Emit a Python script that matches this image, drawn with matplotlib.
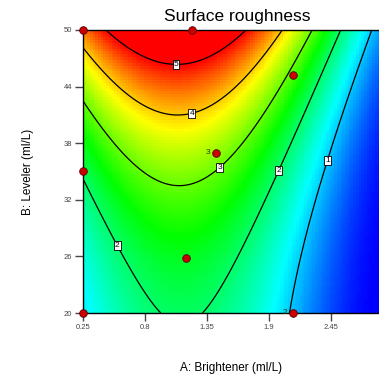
import numpy as np
import matplotlib
matplotlib.use("Agg")
import matplotlib.pyplot as plt
from matplotlib.colors import LinearSegmentedColormap

# ---- data ----
title = "Surface roughness"
x_label = "A: Brightener (ml/L)"
y_label = "B: Leveler (ml/L)"
x_ticks = [0.25, 0.8, 1.35, 1.9, 2.45]
x_tick_labels = ["0.25", "0.8", "1.35", "1.9", "2.45"]
y_ticks = [20, 26, 32, 38, 44, 50]
y_tick_labels = ["20", "26", "32", "38", "44", "50"]
x_range = [0.25, 2.876]
y_range = [20, 50]

# sqrt-transformed quadratic response model (read from contour positions):
# sqrt(R) = c0 + cB*b + cBB*b^2 + cAA*a^2 + cAB*a*b,  a = A-1.10, b = B-35
model_center = [1.10, 35.0]
model_coefs = [1.78, 0.0329, 0.000638, -0.47, -0.00157]   # c0, cB, cBB, cAA, cAB
contour_levels = [1, 2, 3, 4, 5]
label_positions = [(1.075, 46.8), (1.208, 41.5), (1.448, 35.6),
                   (1.989, 35.05), (2.44, 36.1), (0.56, 27.2)]

design_A = [0.25, 1.22, 2.11, 1.43, 0.25, 1.16, 0.25, 2.11]
design_B = [50.0, 50.0, 45.2, 37.0, 35.0, 25.8, 20.0, 20.0]
replicate_A = [1.43, 2.11]
replicate_B = [37.0, 20.0]
replicate_text = ["3", "2"]

color_stops = ["#0000ff", "#00ffff", "#00ff00", "#ffff00", "#ff0000"]
color_range = [0.0, 5.0]

# ---- surface ----
A = np.linspace(x_range[0], x_range[1], 110)
B = np.linspace(y_range[0], y_range[1], 100)
AA, BB = np.meshgrid(A, B)
c0, cB, cBB, cAA, cAB = model_coefs
a = AA - model_center[0]
b = BB - model_center[1]
q = c0 + cB * b + cBB * b ** 2 + cAA * a ** 2 + cAB * a * b
R = np.sign(q) * q ** 2

fig = plt.figure(figsize=(3.79, 3.79), dpi=100)
plt.rcParams['font.family'] = ['Liberation Sans', 'DejaVu Sans']
ax = fig.add_axes([83 / 379, 66 / 379, 296 / 379, 283 / 379])

cmap = LinearSegmentedColormap.from_list("de", color_stops)
ax.pcolormesh(AA, BB, R, cmap=cmap, vmin=color_range[0], vmax=color_range[1],
              shading="nearest", rasterized=True)
cs = ax.contour(AA, BB, R, levels=contour_levels, colors="black", linewidths=0.9)
labels = ax.clabel(cs, fmt="%d", manual=label_positions, inline=False, fontsize=6)
for t in labels:
    t.set_rotation(0)
    t.set_bbox(dict(facecolor="white", edgecolor="black", pad=0.8, linewidth=0.6))

ax.plot(design_A, design_B, "o", color="#cc0000", markeredgecolor="#550000",
        markeredgewidth=0.6, markersize=5.5, clip_on=False, zorder=5)
for xa, yb, s in zip(replicate_A, replicate_B, replicate_text):
    ax.annotate(s, (xa, yb), xytext=(-4, 0), textcoords="offset points",
                ha="right", va="center", fontsize=6, color="#333300", zorder=6)

ax.set_xlim(x_range)
ax.set_ylim(y_range)
ax.set_xticks(x_ticks)
ax.set_xticklabels(x_tick_labels)
ax.set_yticks(y_ticks)
ax.set_yticklabels(y_tick_labels)
ax.tick_params(axis="both", direction="out", length=5.8, width=1, color="#444444",
               labelsize=5.5, labelcolor="#444444", pad=2.2)
ax.spines["right"].set_visible(False)
for s in ["left", "bottom", "top"]:
    ax.spines[s].set_linewidth(1.0)

ax.set_xlabel(x_label, fontsize=8.5, labelpad=22)
ax.set_ylabel(y_label, fontsize=8.5, labelpad=21)
fig.text(237 / 379, 1 - 17 / 379, title, ha="center", va="center", fontsize=12.5)

fig.savefig("out.png", dpi=100)
